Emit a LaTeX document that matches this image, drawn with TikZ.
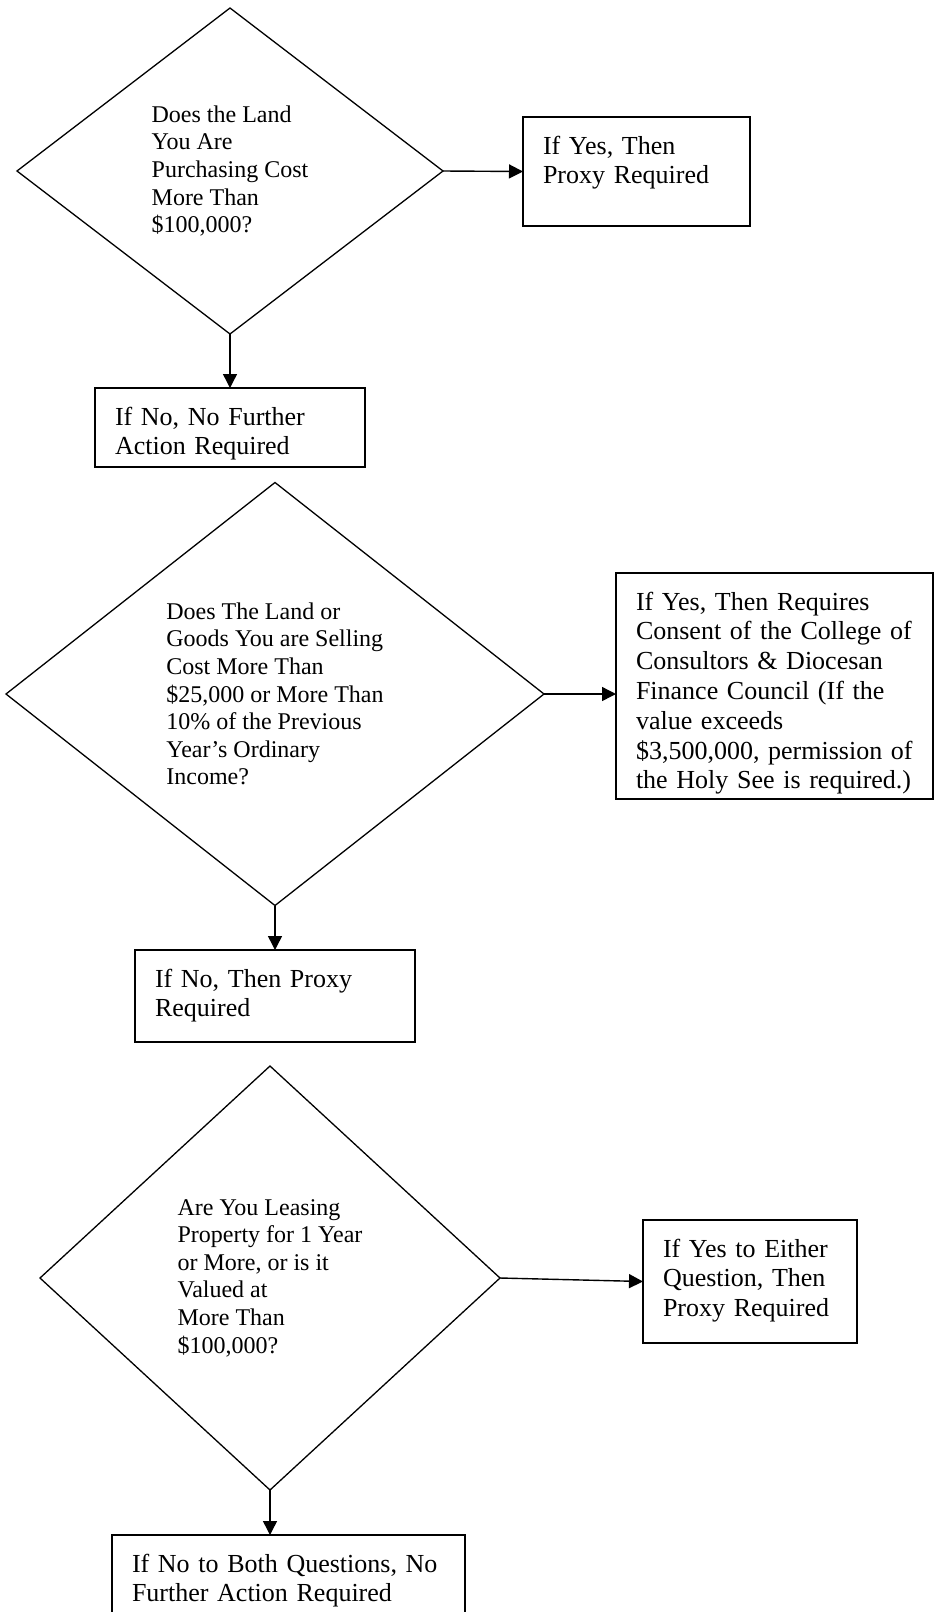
\documentclass[tikz,border=0pt]{standalone}
\usepackage{fontspec}
\setmainfont{Liberation Serif}
\usetikzlibrary{shapes.geometric,arrows.meta,positioning}
\tikzset{>={Triangle[length=7pt,width=7pt]}}
\tikzstyle{decision}=[diamond,draw,line width=0.65pt,inner sep=0pt,outer sep=0pt,aspect=1.2,align=left,font=\fontsize{12}{13.8}\selectfont]
\tikzstyle{outcome}=[rectangle,draw,line width=0.8pt,anchor=north west,align=left,inner xsep=10pt,inner ysep=0pt,outer sep=0pt,text height=18.5pt,font=\fontsize{13}{14.9}\selectfont]
\tikzstyle{flow}=[->,line width=0.7pt]

\begin{document}
\begin{tikzpicture}[x=0.5pt,y=-0.5pt]
	\clip (0,0) rectangle (935,1612);
	% buying land
	\node[decision,minimum width=213pt,minimum height=163pt] (land) at (230,171) {Does the Land\\You Are\\Purchasing Cost\\More Than\\\$100,000?};
	\node[outcome,text width=93.5pt,text depth=36pt] (landyes) at (523,117) {If Yes, Then\\Proxy Required};
	\node[outcome,text width=115pt,text depth=21pt] (landno) at (95,388) {If No, No Further\\Action Required};
	\draw[flow] (land.east) -- (landyes.west);
	\draw[flow] (land.south) -- (landno.north);
	
	% selling land or goods
	\node[decision,minimum width=269pt,minimum height=211.5pt] (sell) at (275,694) {Does The Land or\\Goods You are Selling\\Cost More Than\\\$25,000 or More Than\\10\% of the Previous\\Year’s Ordinary\\Income?};
	\node[outcome,text width=138.5pt,text depth=94.5pt] (sellyes) at (616,573) {If Yes, Then Requires\\Consent of the College of\\Consultors \& Diocesan\\Finance Council (If the\\value exceeds\\\$3,500,000, permission of\\the Holy See is required.)};
	\node[outcome,text width=120pt,text depth=27.5pt] (sellno) at (135,950) {If No, Then Proxy\\Required};
	\draw[flow] (sell.east) -- (sell.east -| sellyes.west);
	\draw[flow] (sell.south) -- (sellno.north);
	
	% leasing property
	\node[decision,minimum width=230pt,minimum height=212pt] (lease) at (270,1278) {Are You Leasing\\Property for 1 Year\\or More, or is it\\Valued at\\More Than\\\$100,000?};
	\node[outcome,text width=87pt,text depth=43pt] (leaseyes) at (643,1220) {If Yes to Either\\Question, Then\\Proxy Required};
	\node[outcome,text width=156.5pt,text depth=31.5pt] (leaseno) at (112,1535) {If No to Both Questions, No\\Further Action Required};
	\draw[flow] (lease.east) -- (leaseyes.west);
	\draw[flow] (lease.south) -- (lease.south |- leaseno.north);
\end{tikzpicture}
\end{document}
